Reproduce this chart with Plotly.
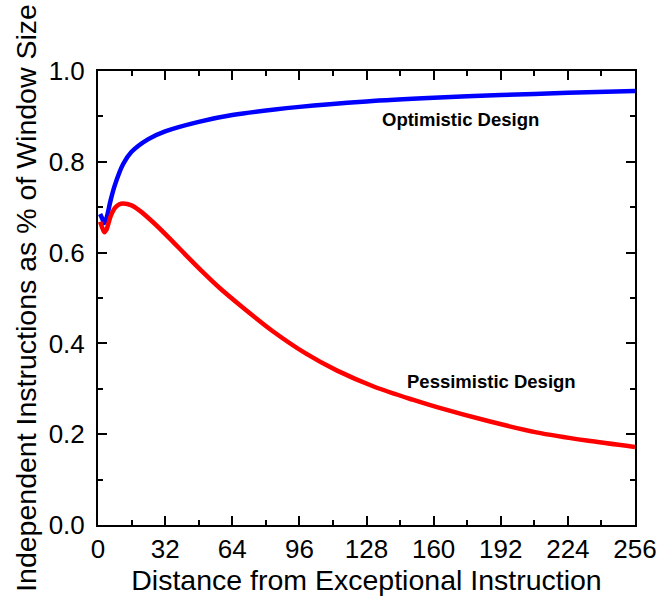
import plotly.graph_objects as go

# Distance from the exceptional instruction (instructions)
distance_opt = [1, 2, 3, 4, 6, 8, 12, 16, 24, 32, 48, 64, 96, 128, 160, 192, 224, 256]
optimistic = [0.685, 0.675, 0.665, 0.675, 0.715, 0.748, 0.795, 0.822, 0.850, 0.867,
              0.888, 0.903, 0.921, 0.933, 0.941, 0.947, 0.952, 0.956]

distance_pes = [1, 2, 3, 4, 6, 8, 10, 12, 16, 20, 26, 34, 42, 50, 58, 68, 83,
                99, 114, 132, 150, 162, 186, 209, 233, 256]
pessimistic = [0.668, 0.655, 0.645, 0.650, 0.680, 0.698, 0.706, 0.708, 0.704, 0.692,
               0.668, 0.632, 0.594, 0.557, 0.522, 0.483, 0.428,
               0.378, 0.340, 0.304, 0.276, 0.259, 0.229, 0.204, 0.186, 0.172]

x_ticks = [0, 32, 64, 96, 128, 160, 192, 224, 256]
y_ticks = [0.0, 0.2, 0.4, 0.6, 0.8, 1.0]

labels = ["Optimistic Design", "Pessimistic Design"]
label_x = [172.7, 187.5]
label_y = [0.893, 0.317]

FONT = "Liberation Sans, Arial, sans-serif"

fig = go.Figure()
fig.add_trace(go.Scatter(x=distance_opt, y=optimistic, mode="lines",
                         line=dict(color="#0000ff", width=4.5, shape="spline",
                                   smoothing=0.8),
                         showlegend=False))
# second curve lives on the mirrored (top/right) axes, which share the same ranges
fig.add_trace(go.Scatter(x=distance_pes, y=pessimistic, mode="lines",
                         xaxis="x2", yaxis="y2",
                         line=dict(color="#ff0000", width=4.5, shape="spline",
                                   smoothing=0.8),
                         showlegend=False))

for text, lx, ly in zip(labels, label_x, label_y):
    fig.add_annotation(x=lx, y=ly, text=f"<b>{text}</b>", showarrow=False,
                       font=dict(family=FONT, size=18.5, color="black"))

tick_style = dict(
    showline=True, linecolor="black", linewidth=2,
    ticks="inside", ticklen=9, tickwidth=2, tickcolor="black",
    showgrid=False, zeroline=False,
    tickfont=dict(family=FONT, size=26, color="black"),
)
x_minor = dict(dtick=16, tick0=0, ticks="inside", ticklen=5, tickwidth=2,
               tickcolor="black", showgrid=False)
y_minor = dict(dtick=0.1, tick0=0, ticks="inside", ticklen=5, tickwidth=2,
               tickcolor="black", showgrid=False)

fig.update_layout(
    xaxis=dict(
        range=[0, 256], tickvals=x_ticks, minor=x_minor,
        title=dict(text="Distance from Exceptional Instruction",
                   font=dict(family=FONT, size=28.5, color="black"), standoff=2),
        **tick_style,
    ),
    yaxis=dict(
        range=[0, 1.0], tickvals=y_ticks, tickformat=".1f", minor=y_minor,
        ticklabelstandoff=6,
        title=dict(text="Independent Instructions as % of Window Size",
                   font=dict(family=FONT, size=28.5, color="black"), standoff=4),
        **tick_style,
    ),
    xaxis2=dict(range=[0, 256], tickvals=x_ticks, minor=x_minor, side="top",
                overlaying="x", showticklabels=False, **tick_style),
    yaxis2=dict(range=[0, 1.0], tickvals=y_ticks, minor=y_minor, side="right",
                overlaying="y", showticklabels=False, **tick_style),
    width=669, height=598,
    margin=dict(l=98, r=30, t=71, b=70),
    plot_bgcolor="white", paper_bgcolor="white",
)

fig.write_html("out.html")
